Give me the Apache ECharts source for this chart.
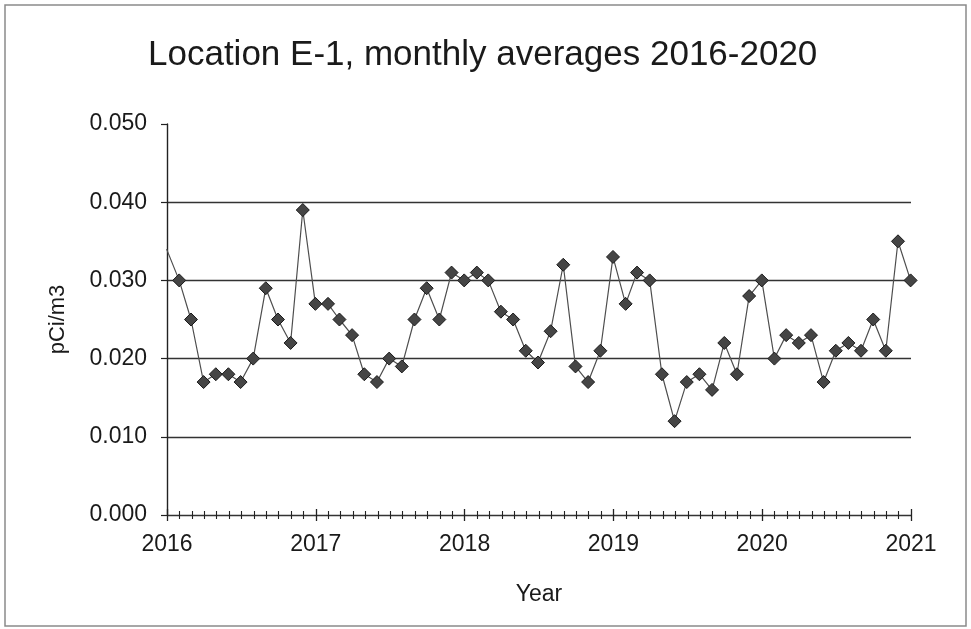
<!DOCTYPE html>
<html>
<head>
<meta charset="utf-8">
<title>Location E-1, monthly averages 2016-2020</title>
<script src="https://cdn.jsdelivr.net/npm/echarts@6/dist/echarts.min.js"></script>
<style>
  html, body { margin: 0; padding: 0; background: #ffffff; }
  #chart { width: 971px; height: 629px; }
</style>
</head>
<body>
<div id="chart"></div>
<script>
// Monthly average concentrations (pCi/m3), one value per calendar month.
const carryIn2015Dec = 0.034;
const values2016 = [0.030, 0.025, 0.017, 0.018, 0.018, 0.017, 0.020, 0.029, 0.025, 0.022, 0.039, 0.027];
const values2017 = [0.027, 0.025, 0.023, 0.018, 0.017, 0.020, 0.019, 0.025, 0.029, 0.025, 0.031, 0.030];
const values2018 = [0.031, 0.030, 0.026, 0.025, 0.021, 0.0195, 0.0235, 0.032, 0.019, 0.017, 0.021, 0.033];
const values2019 = [0.027, 0.031, 0.030, 0.018, 0.012, 0.017, 0.018, 0.016, 0.022, 0.018, 0.028, 0.030];
const values2020 = [0.020, 0.023, 0.022, 0.023, 0.017, 0.021, 0.022, 0.021, 0.025, 0.021, 0.035, 0.030];
const years = [2016, 2017, 2018, 2019, 2020];
const yTicks = [0.000, 0.010, 0.020, 0.030, 0.040, 0.050];
const xTicks = [2016, 2017, 2018, 2019, 2020, 2021];

// Each monthly average is stamped on the last day of its month,
// expressed as a fractional year for the value axis.
function monthEnd(y, m) {
  const t = Date.UTC(y, m + 1, 0);
  const start = Date.UTC(y, 0, 1);
  const next = Date.UTC(y + 1, 0, 1);
  return y + (t - start) / (next - start);
}

const byYear = [values2016, values2017, values2018, values2019, values2020];
const points = [[monthEnd(2015, 11), carryIn2015Dec]];
years.forEach((y, i) => {
  byYear[i].forEach((v, m) => points.push([monthEnd(y, m), v]));
});

const font = '"Liberation Sans", Arial, Helvetica, sans-serif';
const chart = echarts.init(document.getElementById('chart'), null, { renderer: 'canvas' });

chart.setOption({
  backgroundColor: '#ffffff',
  animation: false,
  title: {
    text: 'Location E-1, monthly averages 2016-2020',
    left: 143,
    top: 33,
    textStyle: { fontFamily: font, fontSize: 35, fontWeight: 'normal', color: '#1a1a1a' }
  },
  graphic: [{
    type: 'rect',
    shape: { x: 5, y: 5, width: 961, height: 621 },
    style: { fill: 'none', stroke: '#8a8a8a', lineWidth: 1.5 },
    silent: true,
    z: -1
  }],
  grid: { left: 167, right: 60, top: 124, bottom: 114, containLabel: false },
  xAxis: [{
    type: 'value',
    min: xTicks[0],
    max: xTicks[xTicks.length - 1],
    interval: 1,
    name: 'Year',
    nameLocation: 'middle',
    nameGap: 68,
    nameTextStyle: { fontFamily: font, fontSize: 23, color: '#1a1a1a' },
    axisLine: { show: true, lineStyle: { color: '#333', width: 1.2 } },
    axisTick: { show: true, length: 6, lineStyle: { color: '#222', width: 1.3 } },
    minorTick: { show: true, splitNumber: 12, length: 4, lineStyle: { color: '#222', width: 1.1 } },
    splitLine: { show: false },
    axisLabel: {
      margin: 18,
      fontFamily: font, fontSize: 23, color: '#1a1a1a',
      formatter: v => String(v)
    }
  }, {
    // Same scale, ticks pointing up so each tick crosses the axis line.
    type: 'value',
    position: 'bottom',
    min: xTicks[0],
    max: xTicks[xTicks.length - 1],
    interval: 1,
    axisLine: { show: false },
    axisTick: { show: true, inside: true, length: 6, lineStyle: { color: '#222', width: 1.3 } },
    minorTick: { show: true, splitNumber: 12, length: 4, lineStyle: { color: '#222', width: 1.1 } },
    splitLine: { show: false },
    axisLabel: { show: false }
  }],
  yAxis: {
    type: 'value',
    min: yTicks[0],
    max: yTicks[yTicks.length - 1],
    interval: 0.01,
    name: 'pCi/m3',
    nameLocation: 'middle',
    nameGap: 98,
    nameTextStyle: { fontFamily: font, fontSize: 22, color: '#1a1a1a' },
    axisLine: { show: true, lineStyle: { color: '#222', width: 1.4 } },
    axisTick: { show: true, length: 6, lineStyle: { color: '#222', width: 1.2 } },
    splitLine: {
      show: true,
      lineStyle: { color: ['#333', '#333', '#333', '#333', '#333', 'rgba(0,0,0,0)'], width: 1.3 }
    },
    axisLabel: {
      margin: 20,
      fontFamily: font, fontSize: 23, color: '#1a1a1a',
      formatter: v => v.toFixed(3)
    }
  },
  series: [{
    type: 'line',
    data: points,
    clip: true,
    symbol: 'diamond',
    symbolSize: 13,
    showAllSymbol: true,
    lineStyle: { color: '#4e4e4e', width: 1.2 },
    itemStyle: { color: '#454545', borderColor: '#1a1a1a', borderWidth: 1 },
    z: 3
  }]
});
</script>
</body>
</html>
